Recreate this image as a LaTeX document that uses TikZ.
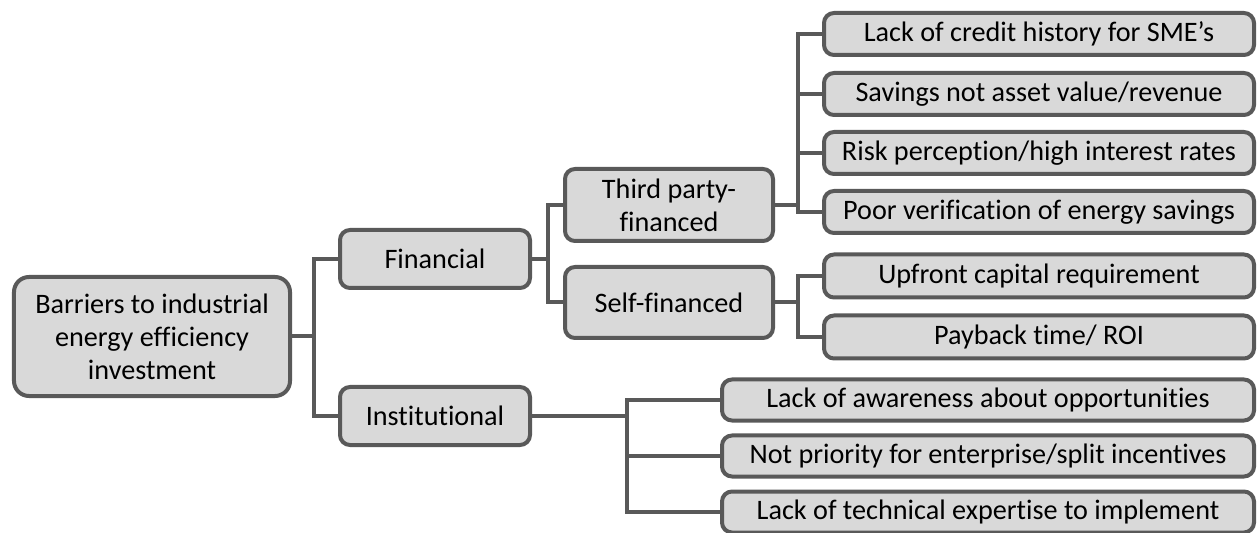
\documentclass[tikz,border=0pt]{standalone}
\usepackage{fontspec}
\setmainfont[Ligatures=NoCommon]{Carlito}
\definecolor{edge}{HTML}{595959}
\definecolor{boxfill}{HTML}{D9D9D9}
\tikzset{
  box/.style={draw=edge, fill=boxfill, line width=4bp, rounded corners=10bp,
    inner sep=0pt, align=center, font=\fontsize{28.3}{33}\selectfont, text=black},
  conn/.style={draw=edge, line width=4bp, line join=miter},
}
\begin{document}
\begin{tikzpicture}[x=1bp,y=-1bp]
\useasboundingbox (0,0) rectangle (1257,533);
% level 0
\node[box, rounded corners=15bp, minimum width=276bp, minimum height=119bp] (root) at (152,336.5)
  {Barriers to industrial\\energy efficiency\\investment};
% level 1
\node[box, minimum width=190bp, minimum height=58bp] (fin) at (435,259) {Financial};
\node[box, minimum width=190bp, minimum height=58bp] (inst) at (435,416) {Institutional};
% level 2
\node[box, minimum width=208bp, minimum height=72bp] (tp) at (669,205) {Third party-\\financed};
\node[box, minimum width=208bp, minimum height=71bp] (sf) at (669,302.5) {Self-financed};
% level 3 (third party)
\node[box, minimum width=430bp, minimum height=42bp] (t1) at (1039,34) {Lack of credit history for SME’s};
\node[box, minimum width=430bp, minimum height=42bp] (t2) at (1039,94) {Savings not asset value/revenue};
\node[box, minimum width=430bp, minimum height=42bp] (t3) at (1039,153) {Risk perception/high interest rates};
\node[box, minimum width=430bp, minimum height=42bp] (t4) at (1039,212) {Poor verification of energy savings};
% level 3 (self)
\node[box, minimum width=430bp, minimum height=43bp] (s1) at (1039,276) {Upfront capital requirement};
\node[box, minimum width=430bp, minimum height=43bp] (s2) at (1039,337) {Payback time/ ROI};
% level 2 (institutional)
\node[box, minimum width=532bp, minimum height=41bp] (i1) at (988,400) {Lack of awareness about opportunities};
\node[box, minimum width=532bp, minimum height=41bp] (i2) at (988,456) {Not priority for enterprise/split incentives};
\node[box, minimum width=532bp, minimum height=41bp] (i3) at (988,512) {Lack of technical expertise to implement};
% connectors
\draw[conn] (fin.west) -- ++(-24,0) |- (root.east);
\draw[conn] (inst.west) -- ++(-24,0) |- (root.east);
\draw[conn] (tp.west) -- ++(-15,0) |- (fin.east);
\draw[conn] (sf.west) -- ++(-15,0) |- (fin.east);
\foreach \n in {t1,t2,t3,t4} \draw[conn] (\n.west) -- ++(-24,0) |- (tp.east);
\foreach \n in {s1,s2} \draw[conn] (\n.west) -- ++(-24,0) |- (sf.east);
\foreach \n in {i1,i2,i3} \draw[conn] (\n.west) -- ++(-93,0) |- (inst.east);
\end{tikzpicture}
\end{document}
